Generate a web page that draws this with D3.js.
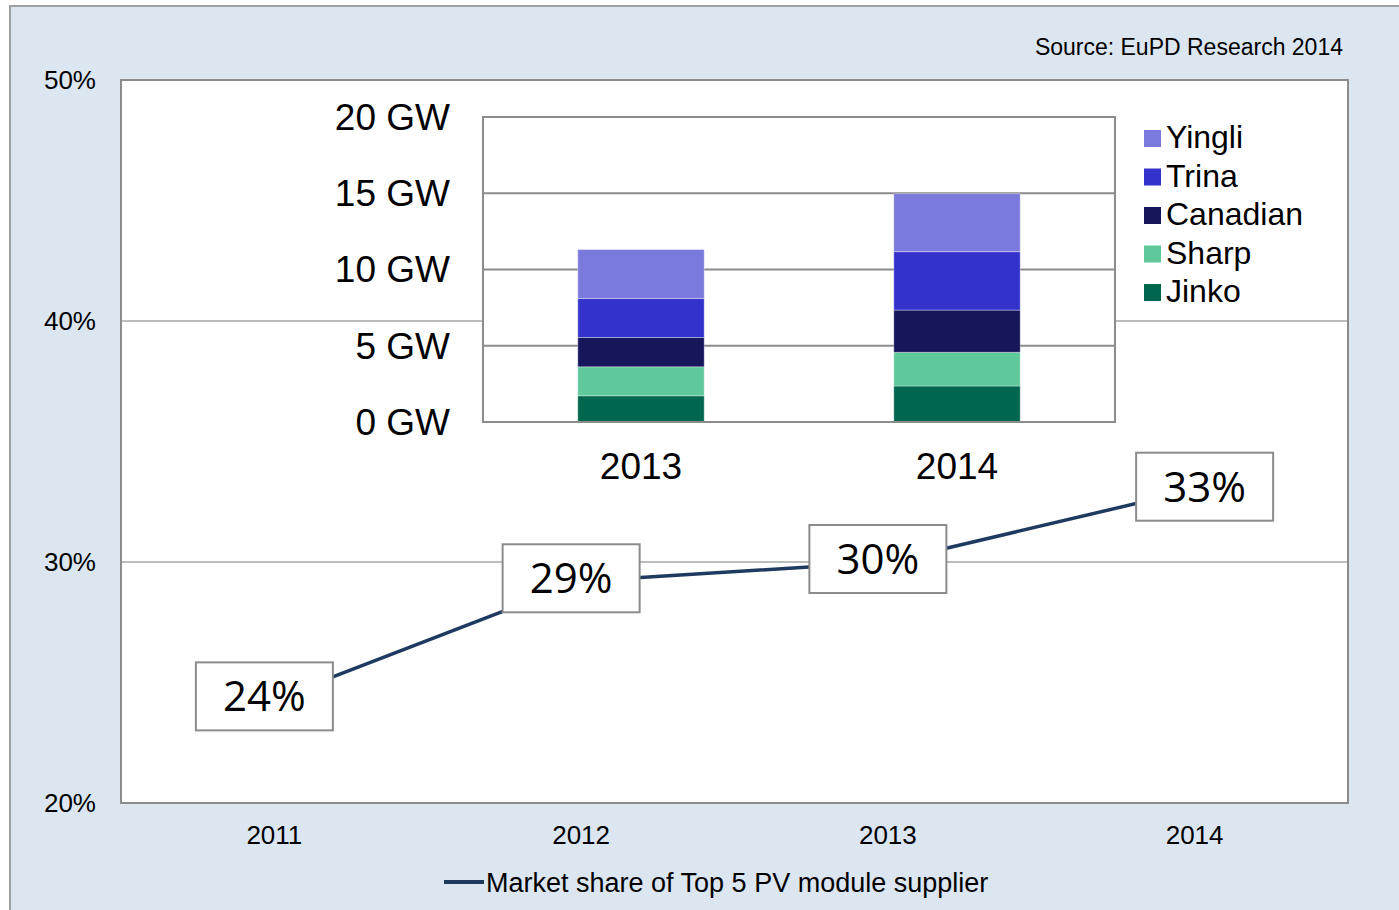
<!DOCTYPE html>
<html>
<head>
<meta charset="utf-8">
<script src="https://cdn.jsdelivr.net/npm/d3@7"></script>
<style>
body { margin: 0; background: #ffffff; }
svg { display: block; font-family: "Liberation Sans", Arial, sans-serif; }
</style>
</head>
<body>
<div id="chart"></div>
<script>
// market share of top 5 suppliers (line)
var years = ['2011', '2012', '2013', '2014'];
var shareValues = [24.3, 29.2, 30.0, 33.0];
var shareLabels = ['24%', '29%', '30%', '33%'];
var shareTicks = [20, 30, 40, 50];

// inset: shipments per supplier, GW
var insetYears = ['2013', '2014'];
var suppliers = ['Yingli', 'Trina', 'Canadian', 'Sharp', 'Jinko'];
var yingli = [3.21, 3.80];
var trina = [2.56, 3.83];
var canadian = [1.92, 2.77];
var sharp = [1.90, 2.21];
var jinko = [1.72, 2.36];
var gwTicks = [0, 5, 10, 15, 20];

var width = 1399, height = 910;

var svg = d3.select('#chart')
	.append('svg')
	.attr('width', width)
	.attr('height', height);

// outer frame
svg.append('rect')
	.attr('x', 10).attr('y', 6)
	.attr('width', 1400).attr('height', 920)
	.attr('fill', '#dce6f1')
	.attr('stroke', '#a0a0a0')
	.attr('stroke-width', 2);

svg.append('text')
	.attr('x', 1343).attr('y', 55)
	.attr('text-anchor', 'end')
	.style('font-size', '23px')
	.text('Source: EuPD Research 2014');

// main plot
var plot = { left: 121, right: 1348, top: 80, bottom: 803 };

var x = d3.scaleBand()
	.domain(years)
	.range([plot.left, plot.right]);

var y = d3.scaleLinear()
	.domain([20, 50])
	.range([plot.bottom, plot.top]);

svg.append('rect')
	.attr('x', plot.left).attr('y', plot.top)
	.attr('width', plot.right - plot.left)
	.attr('height', plot.bottom - plot.top)
	.attr('fill', '#ffffff');

svg.selectAll('.grid')
	.data(shareTicks.filter(function(d) { return d > 20 && d < 50; }))
	.enter().append('line')
	.attr('x1', plot.left).attr('x2', plot.right)
	.attr('y1', function(d) { return y(d); })
	.attr('y2', function(d) { return y(d); })
	.attr('stroke', '#a6a6a6')
	.attr('stroke-width', 1.5);

svg.append('rect')
	.attr('x', plot.left).attr('y', plot.top)
	.attr('width', plot.right - plot.left)
	.attr('height', plot.bottom - plot.top)
	.attr('fill', 'none')
	.attr('stroke', '#8c8c8c')
	.attr('stroke-width', 2);

svg.selectAll('.ytick')
	.data(shareTicks)
	.enter().append('text')
	.attr('x', 96)
	.attr('y', function(d) { return y(d); })
	.attr('dy', '0.35em')
	.attr('text-anchor', 'end')
	.style('font-size', '26px')
	.text(function(d) { return d + '%'; });

svg.selectAll('.xtick')
	.data(years)
	.enter().append('text')
	.attr('x', function(d) { return x(d) + x.bandwidth() / 2; })
	.attr('y', 844)
	.attr('text-anchor', 'middle')
	.style('font-size', '26px')
	.text(function(d) { return d; });

// inset stacked bars
var inset = { left: 483, right: 1115, top: 117, bottom: 422 };

var ix = d3.scaleBand()
	.domain(insetYears)
	.range([inset.left, inset.right])
	.paddingInner(0.6)
	.paddingOuter(0.3);

var iy = d3.scaleLinear()
	.domain([0, 20])
	.range([inset.bottom, inset.top]);

var color = d3.scaleOrdinal()
	.domain(suppliers)
	.range(['#7a7adc', '#3333cc', '#16165b', '#60c99c', '#00664e']);

var rows = insetYears.map(function(yr, i) {
	return {
		year: yr,
		Yingli: yingli[i],
		Trina: trina[i],
		Canadian: canadian[i],
		Sharp: sharp[i],
		Jinko: jinko[i]
	};
});

var stacked = d3.stack().keys(suppliers.slice().reverse())(rows);

svg.append('rect')
	.attr('x', inset.left).attr('y', inset.top)
	.attr('width', inset.right - inset.left)
	.attr('height', inset.bottom - inset.top)
	.attr('fill', '#ffffff');

svg.selectAll('.igrid')
	.data(gwTicks.filter(function(d) { return d > 0 && d < 20; }))
	.enter().append('line')
	.attr('x1', inset.left).attr('x2', inset.right)
	.attr('y1', function(d) { return iy(d); })
	.attr('y2', function(d) { return iy(d); })
	.attr('stroke', '#8c8c8c')
	.attr('stroke-width', 2);

svg.selectAll('.layer')
	.data(stacked)
	.enter().append('g')
	.attr('fill', function(d) { return color(d.key); })
	.selectAll('rect')
	.data(function(d) { return d; })
	.enter().append('rect')
	.attr('x', function(d) { return ix(d.data.year); })
	.attr('y', function(d) { return iy(d[1]); })
	.attr('width', ix.bandwidth())
	.attr('height', function(d) { return iy(d[0]) - iy(d[1]); })
	.attr('stroke', 'rgba(255,255,255,0.35)')
	.attr('stroke-width', 1);

svg.append('rect')
	.attr('x', inset.left).attr('y', inset.top)
	.attr('width', inset.right - inset.left)
	.attr('height', inset.bottom - inset.top)
	.attr('fill', 'none')
	.attr('stroke', '#8c8c8c')
	.attr('stroke-width', 2);

svg.selectAll('.iytick')
	.data(gwTicks)
	.enter().append('text')
	.attr('x', 450)
	.attr('y', function(d) { return iy(d); })
	.attr('dy', '0.35em')
	.attr('text-anchor', 'end')
	.style('font-size', '37px')
	.text(function(d) { return d + ' GW'; });

svg.selectAll('.ixtick')
	.data(insetYears)
	.enter().append('text')
	.attr('x', function(d) { return ix(d) + ix.bandwidth() / 2; })
	.attr('y', 479)
	.attr('text-anchor', 'middle')
	.style('font-size', '37px')
	.text(function(d) { return d; });

// inset legend
var legend = svg.selectAll('.legend')
	.data(suppliers)
	.enter().append('g')
	.attr('transform', function(d, i) { return 'translate(1144,' + (130 + i * 38.5) + ')'; });

legend.append('rect')
	.attr('width', 17).attr('height', 17)
	.attr('fill', function(d) { return color(d); });

legend.append('text')
	.attr('x', 22).attr('y', 8.5)
	.attr('dy', '0.3em')
	.style('font-size', '32px')
	.text(function(d) { return d; });

// market share line
var points = years.map(function(yr, i) {
	return [x(yr) + x.bandwidth() / 2, y(shareValues[i])];
});

svg.append('path')
	.datum(points)
	.attr('d', d3.line())
	.attr('fill', 'none')
	.attr('stroke', '#1f3a60')
	.attr('stroke-width', 3.5);

var boxW = 137, boxH = 68;

// labels sit a little left of the point, the last one a little right
var labels = svg.selectAll('.plabel')
	.data(points)
	.enter().append('g')
	.attr('transform', function(d, i) {
		var dx = i < points.length - 1 ? -10 : 10;
		return 'translate(' + (d[0] + dx) + ',' + (d[1] - 3) + ')';
	});

labels.append('rect')
	.attr('x', -boxW / 2).attr('y', -boxH / 2)
	.attr('width', boxW).attr('height', boxH)
	.attr('fill', '#ffffff')
	.attr('stroke', '#8c8c8c')
	.attr('stroke-width', 2);

labels.append('text')
	.attr('text-anchor', 'middle')
	.attr('dy', '0.36em')
	.style('font-family', '"Open Sans", sans-serif')
	.style('font-size', '42px')
	.text(function(d, i) { return shareLabels[i]; });

// bottom legend
svg.append('line')
	.attr('x1', 444).attr('x2', 484)
	.attr('y1', 882).attr('y2', 882)
	.attr('stroke', '#1f3a60')
	.attr('stroke-width', 4);

svg.append('text')
	.attr('x', 486).attr('y', 882)
	.attr('dy', '0.36em')
	.style('font-size', '27px')
	.text('Market share of Top 5 PV module supplier');
</script>
</body>
</html>
